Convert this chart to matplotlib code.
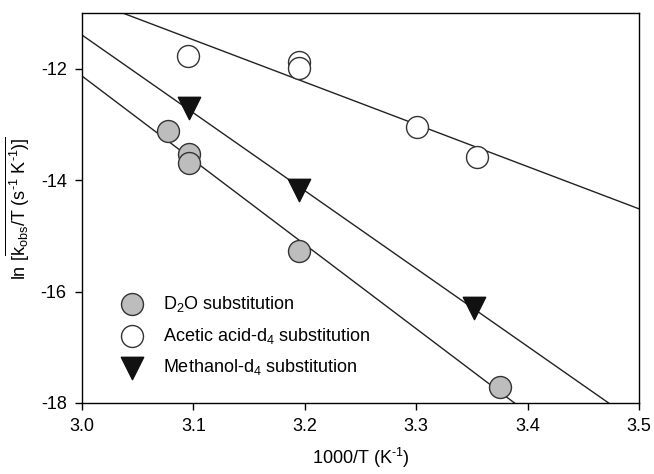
import numpy as np
import matplotlib
matplotlib.use("Agg")
import matplotlib.pyplot as plt

plt.rcParams['font.family'] = ['Liberation Sans', 'DejaVu Sans']
plt.rcParams['mathtext.fontset'] = 'custom'
plt.rcParams['mathtext.rm'] = 'Liberation Sans'
plt.rcParams['mathtext.it'] = 'Liberation Sans:italic'
plt.rcParams['mathtext.bf'] = 'Liberation Sans:bold'

# Data
d2o_x = [3.077, 3.096, 3.096, 3.195, 3.375]
d2o_y = [-13.12, -13.53, -13.70, -15.27, -17.72]
acetic_x = [3.095, 3.195, 3.195, 3.301, 3.355]
acetic_y = [-11.77, -11.88, -11.98, -13.05, -13.59]
methanol_x = [3.096, 3.195, 3.352]
methanol_y = [-12.70, -14.18, -16.29]

labels = ["D$_2$O substitution", "Acetic acid-d$_4$ substitution", "Methanol-d$_4$ substitution"]
xticks = [3.0, 3.1, 3.2, 3.3, 3.4, 3.5]
yticks = [-18, -16, -14, -12]

fig = plt.figure(figsize=(6.54, 4.74), dpi=100)
ax = fig.add_axes([0.1254, 0.1498, 0.977 - 0.1254, 0.9726 - 0.1498])

xl = np.array([3.0, 3.5])
for xs, ys in [(d2o_x, d2o_y), (acetic_x, acetic_y), (methanol_x, methanol_y)]:
    m, b = np.polyfit(xs, ys, 1)
    ax.plot(xl, m * xl + b, color='#222222', lw=1.0, zorder=1)

ax.scatter(d2o_x, d2o_y, s=250, facecolor='#bdbdbd', edgecolor='#333333', lw=1.0, zorder=3, label=labels[0])
ax.scatter(acetic_x, acetic_y, s=250, facecolor='white', edgecolor='#333333', lw=1.0, zorder=3, label=labels[1])
ax.scatter(methanol_x, methanol_y, s=260, marker='v', facecolor='#111111', edgecolor='#111111', lw=1.0, zorder=3, label=labels[2])

ax.set_xlim(3.0, 3.5)
ax.set_ylim(-18, -11)
ax.set_xticks(xticks)
ax.set_xticklabels([f"{t:.1f}" for t in xticks])
ax.set_yticks(yticks)
ax.set_yticklabels([f"{t}" for t in yticks])
ax.tick_params(direction='out', length=5, width=1, labelsize=13, pad=6)
for s in ax.spines.values():
    s.set_linewidth(1.0)

ax.set_xlabel(r"1000/T (K$^{\text{-}1}$)", fontsize=13, labelpad=8)
ax.set_ylabel(r"ln [$\overline{\mathrm{k_{obs}/T\ (s^{\text{-}1}\ K^{\text{-}1})]}}$", fontsize=13, labelpad=6)

leg = ax.legend(loc='lower left', bbox_to_anchor=(0.045, 0.047), frameon=False, fontsize=13,
                handletextpad=0.7, labelspacing=0.65, borderaxespad=0)

fig.savefig("out.png", dpi=100)
